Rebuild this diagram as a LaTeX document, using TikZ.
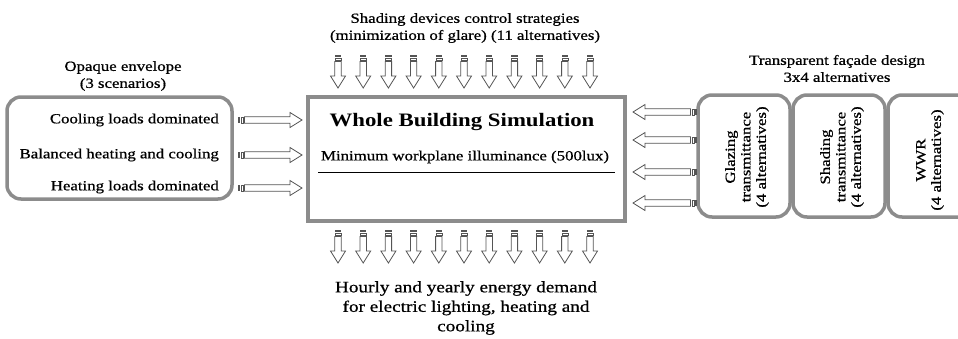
\documentclass[tikz,border=0pt]{standalone}
\usepackage{fontspec}
\setmainfont[FakeStretch=1.2,UprightFeatures={FakeBold=0.8}]{Liberation Serif}
\begin{document}
\begin{tikzpicture}[x=1pt,y=-1pt,
  frame/.style={draw=boxgray,line width=3.5pt},
  roundframe/.style={frame,rounded corners=14pt},
  lbl/.style={inner sep=0pt,font=\fontsize{14}{17}\selectfont,align=center},
  side/.style={inner sep=0pt,font=\fontsize{14}{17}\selectfont,anchor=east},
  vlbl/.style={inner sep=0pt,rotate=90,align=center,font=\fontsize{14}{15.5}\selectfont},
  arrbody/.style={draw=arrgray,line width=0.8pt,fill=white},
  arrbar/.style={fill=arrgray},
]
\definecolor{boxgray}{HTML}{8C8C8C}
\definecolor{arrgray}{HTML}{555555}
\newcommand\blockarrow[4]{%
  \begin{scope}[shift={(#1,#2)},rotate=#3]
    \fill[arrbar] (0,-3.2) rectangle (1.6,3.2);
    \draw[arrgray,line width=0.6pt] (3,-3) rectangle (5,3);
    \draw[arrbody] (6.5,-3.2) -- (#4-12,-3.2) -- (#4-12,-7.5) -- (#4,0) -- (#4-12,7.5) -- (#4-12,3.2) -- (6.5,3.2) -- cycle;
  \end{scope}}
\useasboundingbox (0,0) rectangle (958,338);
\begin{scope}
\clip (0,0) rectangle (958,338);
% boxes
\draw[roundframe] (7,97) rectangle (232,199);
\draw[frame] (308,97) rectangle (625,221);
\draw[roundframe] (698,95) rectangle (790,217);
\draw[roundframe] (793,95) rectangle (885,217);
\draw[roundframe] (888,95) rectangle (990,217);
\end{scope}
% headings
\node[lbl] (shad) at (465,28) {Shading devices control strategies\\(minimization of glare) (11 alternatives)};
\node[lbl] (opq) at (123,76) {Opaque envelope\\(3 scenarios)};
\node[lbl] (tfd) at (837,68.5) {Transparent façade design\\3x4 alternatives};
\node[lbl,font=\fontsize{16}{19.5}\selectfont] (out) at (466,308) {Hourly and yearly energy demand\\for electric lighting, heating and\\cooling};
% left box labels
\node[side] (cool) at (219,120) {Cooling loads dominated};
\node[side] (bal) at (219,155) {Balanced heating and cooling};
\node[side] (heat) at (219,187) {Heating loads dominated};
% main box content
\node[inner sep=0pt,font=\fontsize{19}{22}\bfseries\selectfont] (wbs) at (462,122) {Whole Building Simulation};
\node[lbl] (mwi) at (465,157) {Minimum workplane illuminance (500lux)};
\draw[line width=0.9pt] (318,172) -- (615,172);
% rotated labels
\node[vlbl] (glz) at (747,157) {Glazing\\transmittance\\(4 alternatives)};
\node[vlbl] (shd) at (842,157) {Shading\\transmittance\\(4 alternatives)};
\node[vlbl] (wwr) at (930,160) {WWR\\(4 alternatives)};
% arrows
\foreach \i in {0,...,10}{
  \blockarrow{338+25.2*\i}{55}{-90}{33}
  \blockarrow{338+25.2*\i}{230}{-90}{33}
}
\foreach \yy in {120,155,188}{\blockarrow{238}{\yy}{0}{64}}
\foreach \yy in {112,140,172,203}{\blockarrow{697}{\yy}{180}{64}}
\end{tikzpicture}
\end{document}
